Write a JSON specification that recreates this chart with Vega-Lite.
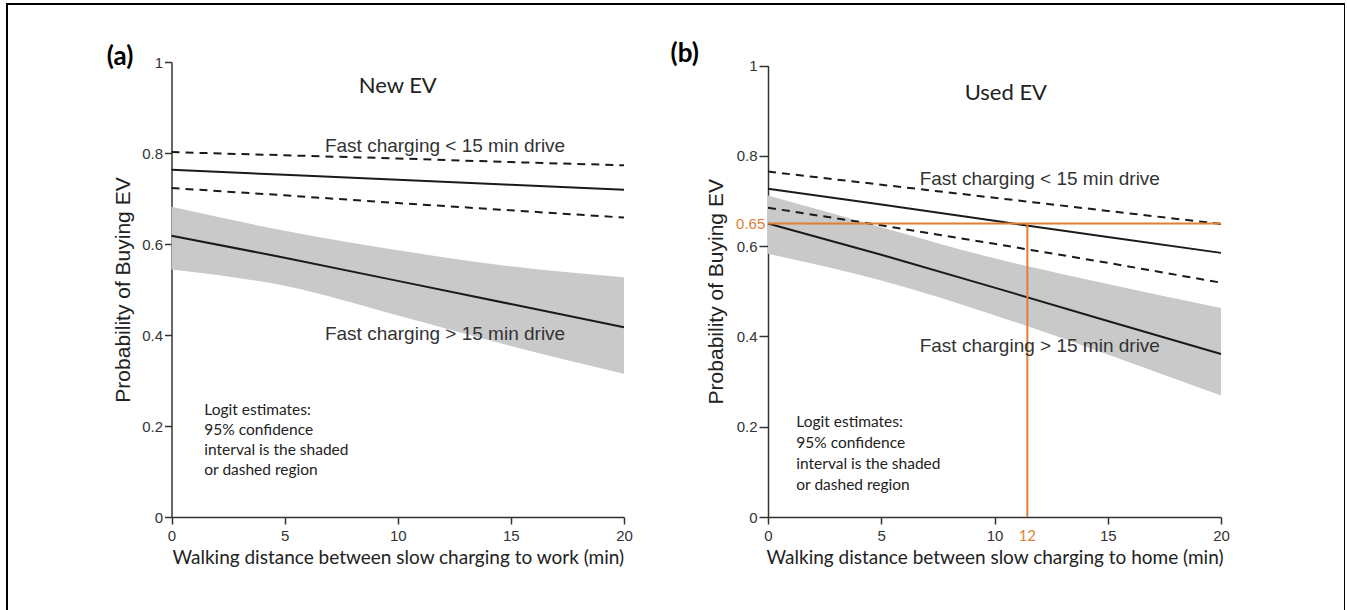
{
  "$schema": "https://vega.github.io/schema/vega-lite/v6.json",
  "width": 1338,
  "height": 610,
  "padding": {"left": 7, "top": 4, "right": 0, "bottom": 0},
  "background": "white",
  "config": {
    "view": {"stroke": "#000000", "strokeWidth": 2},
    "axis": {
      "grid": false,
      "domainColor": "#333333",
      "tickColor": "#333333",
      "domainWidth": 1.5,
      "tickWidth": 1.5,
      "labelFont": "Liberation Sans",
      "labelFontSize": 15,
      "labelColor": "#333333",
      "labelFlush": false,
      "labelOverlap": false,
      "titleFontWeight": "normal",
      "titleColor": "#222222"
    }
  },
  "datasets": {
    "bandA": [
      {"x": 0, "lo": 0.544, "hi": 0.682},
      {"x": 5, "lo": 0.508, "hi": 0.629},
      {"x": 10, "lo": 0.443, "hi": 0.586},
      {"x": 15, "lo": 0.376, "hi": 0.551},
      {"x": 20, "lo": 0.315, "hi": 0.527}
    ],
    "linesA": [
      {"series": "Fast charging < 15 min drive", "bound": "estimate", "x": 0, "p": 0.763},
      {"series": "Fast charging < 15 min drive", "bound": "estimate", "x": 5, "p": 0.752},
      {"series": "Fast charging < 15 min drive", "bound": "estimate", "x": 10, "p": 0.741},
      {"series": "Fast charging < 15 min drive", "bound": "estimate", "x": 15, "p": 0.730},
      {"series": "Fast charging < 15 min drive", "bound": "estimate", "x": 20, "p": 0.719},
      {"series": "Fast charging < 15 min drive", "bound": "upper", "x": 0, "p": 0.802},
      {"series": "Fast charging < 15 min drive", "bound": "upper", "x": 5, "p": 0.795},
      {"series": "Fast charging < 15 min drive", "bound": "upper", "x": 10, "p": 0.788},
      {"series": "Fast charging < 15 min drive", "bound": "upper", "x": 15, "p": 0.780},
      {"series": "Fast charging < 15 min drive", "bound": "upper", "x": 20, "p": 0.773},
      {"series": "Fast charging < 15 min drive", "bound": "lower", "x": 0, "p": 0.723},
      {"series": "Fast charging < 15 min drive", "bound": "lower", "x": 5, "p": 0.707},
      {"series": "Fast charging < 15 min drive", "bound": "lower", "x": 10, "p": 0.690},
      {"series": "Fast charging < 15 min drive", "bound": "lower", "x": 15, "p": 0.674},
      {"series": "Fast charging < 15 min drive", "bound": "lower", "x": 20, "p": 0.658},
      {"series": "Fast charging > 15 min drive", "bound": "estimate", "x": 0, "p": 0.618},
      {"series": "Fast charging > 15 min drive", "bound": "estimate", "x": 5, "p": 0.570},
      {"series": "Fast charging > 15 min drive", "bound": "estimate", "x": 10, "p": 0.519},
      {"series": "Fast charging > 15 min drive", "bound": "estimate", "x": 15, "p": 0.468},
      {"series": "Fast charging > 15 min drive", "bound": "estimate", "x": 20, "p": 0.417}
    ],
    "textA": [
      {"kind": "series", "x": 12.09, "p": 0.815, "text": "Fast charging < 15 min drive"},
      {"kind": "series", "x": 12.09, "p": 0.402, "text": "Fast charging > 15 min drive"},
      {"kind": "heading", "x": 10, "p": 0.947, "text": "New EV"},
      {"kind": "note", "x": 1.45, "p": 0.225, "text": "Logit estimates:\n95% confidence\ninterval is the shaded\nor dashed region"},
      {"kind": "panel", "x": -2.86, "p": 1.011, "text": "(a)"}
    ],
    "bandB": [
      {"x": 0, "lo": 0.583, "hi": 0.712},
      {"x": 5, "lo": 0.524, "hi": 0.642},
      {"x": 10, "lo": 0.447, "hi": 0.573},
      {"x": 15, "lo": 0.360, "hi": 0.516},
      {"x": 20, "lo": 0.269, "hi": 0.463}
    ],
    "linesB": [
      {"series": "Fast charging < 15 min drive", "bound": "estimate", "x": 0, "p": 0.727},
      {"series": "Fast charging < 15 min drive", "bound": "estimate", "x": 5, "p": 0.692},
      {"series": "Fast charging < 15 min drive", "bound": "estimate", "x": 10, "p": 0.656},
      {"series": "Fast charging < 15 min drive", "bound": "estimate", "x": 15, "p": 0.620},
      {"series": "Fast charging < 15 min drive", "bound": "estimate", "x": 20, "p": 0.585},
      {"series": "Fast charging < 15 min drive", "bound": "upper", "x": 0, "p": 0.765},
      {"series": "Fast charging < 15 min drive", "bound": "upper", "x": 5, "p": 0.736},
      {"series": "Fast charging < 15 min drive", "bound": "upper", "x": 10, "p": 0.707},
      {"series": "Fast charging < 15 min drive", "bound": "upper", "x": 15, "p": 0.678},
      {"series": "Fast charging < 15 min drive", "bound": "upper", "x": 20, "p": 0.649},
      {"series": "Fast charging < 15 min drive", "bound": "lower", "x": 0, "p": 0.685},
      {"series": "Fast charging < 15 min drive", "bound": "lower", "x": 5, "p": 0.646},
      {"series": "Fast charging < 15 min drive", "bound": "lower", "x": 10, "p": 0.605},
      {"series": "Fast charging < 15 min drive", "bound": "lower", "x": 15, "p": 0.563},
      {"series": "Fast charging < 15 min drive", "bound": "lower", "x": 20, "p": 0.519},
      {"series": "Fast charging > 15 min drive", "bound": "estimate", "x": 0, "p": 0.650},
      {"series": "Fast charging > 15 min drive", "bound": "estimate", "x": 5, "p": 0.581},
      {"series": "Fast charging > 15 min drive", "bound": "estimate", "x": 10, "p": 0.508},
      {"series": "Fast charging > 15 min drive", "bound": "estimate", "x": 15, "p": 0.434},
      {"series": "Fast charging > 15 min drive", "bound": "estimate", "x": 20, "p": 0.361}
    ],
    "refB": [
      {"x": 0, "x2": 20, "p": 0.65, "p2": 0.65},
      {"x": 11.45, "x2": 11.45, "p": 0, "p2": 0.65}
    ],
    "refTextB": [
      {"kind": "ylabel", "x": -0.12, "p": 0.65, "text": "0.65"},
      {"kind": "xlabel", "x": 11.45, "p": -0.042, "text": "12"}
    ],
    "textB": [
      {"kind": "series", "x": 12.0, "p": 0.748, "text": "Fast charging < 15 min drive"},
      {"kind": "series", "x": 12.0, "p": 0.378, "text": "Fast charging > 15 min drive"},
      {"kind": "heading", "x": 10.5, "p": 0.939, "text": "Used EV"},
      {"kind": "note", "x": 1.25, "p": 0.199, "text": "Logit estimates:\n95% confidence\ninterval is the shaded\nor dashed region"},
      {"kind": "panel", "x": -4.3, "p": 1.025, "text": "(b)"}
    ]
  },
  "layer": [
    {
      "layer": [
        {
          "data": {"name": "bandA"},
          "mark": {"type": "area", "color": "#c9c9c9", "interpolate": "monotone"},
          "encoding": {
            "x": {"field": "x", "type": "quantitative",
              "scale": {"domain": [0, 20], "range": [164.5, 617], "nice": false, "zero": false},
              "axis": {"orient": "bottom", "offset": -97, "values": [0, 5, 10, 15, 20], "format": "d", "tickSize": 7, "labelPadding": 4,
                "title": "Walking distance between slow charging to work (min)", "titleFont": "Lato", "titleFontSize": 19, "titlePadding": 5}},
            "y": {"field": "lo", "type": "quantitative",
              "scale": {"domain": [0, 1], "range": [513, 58], "nice": false, "zero": false},
              "axis": {"orient": "left", "offset": -164.5, "values": [0, 0.2, 0.4, 0.6, 0.8, 1], "format": "~g", "tickSize": 7, "labelPadding": 2,
                "title": "Probability of Buying EV", "titleFont": "Liberation Sans", "titleFontSize": 21, "titlePadding": 8}},
            "y2": {"field": "hi"}
          }
        },
        {
          "data": {"name": "linesA"},
          "transform": [{"filter": "datum.bound == 'estimate'"}],
          "mark": {"type": "line", "color": "#1a1a1a", "strokeWidth": 2},
          "encoding": {
            "x": {"field": "x", "type": "quantitative"},
            "y": {"field": "p", "type": "quantitative"},
            "detail": {"field": "series"}
          }
        },
        {
          "data": {"name": "linesA"},
          "transform": [{"filter": "datum.bound != 'estimate'"}],
          "mark": {"type": "line", "color": "#1a1a1a", "strokeWidth": 2, "strokeDash": [8, 6]},
          "encoding": {
            "x": {"field": "x", "type": "quantitative"},
            "y": {"field": "p", "type": "quantitative"},
            "detail": {"field": "bound"}
          }
        },
        {
          "data": {"name": "textA"},
          "transform": [{"filter": "datum.kind == 'series'"}],
          "mark": {"type": "text", "font": "Liberation Sans", "fontSize": 19, "color": "#333333", "align": "center", "baseline": "middle"},
          "encoding": {
            "x": {"field": "x", "type": "quantitative"},
            "y": {"field": "p", "type": "quantitative"},
            "text": {"field": "text"}
          }
        },
        {
          "data": {"name": "textA"},
          "transform": [{"filter": "datum.kind == 'heading'"}],
          "mark": {"type": "text", "font": "Lato", "fontSize": 22, "color": "#222222", "align": "center", "baseline": "middle"},
          "encoding": {
            "x": {"field": "x", "type": "quantitative"},
            "y": {"field": "p", "type": "quantitative"},
            "text": {"field": "text"}
          }
        },
        {
          "data": {"name": "textA"},
          "transform": [{"filter": "datum.kind == 'note'"}],
          "mark": {"type": "text", "font": "Lato", "fontSize": 15.5, "color": "#222222", "align": "left", "baseline": "alphabetic", "lineBreak": "\n", "lineHeight": 20.2},
          "encoding": {
            "x": {"field": "x", "type": "quantitative"},
            "y": {"field": "p", "type": "quantitative"},
            "text": {"field": "text"}
          }
        },
        {
          "data": {"name": "textA"},
          "transform": [{"filter": "datum.kind == 'panel'"}],
          "mark": {"type": "text", "font": "Lato", "fontSize": 26, "fontWeight": "bold", "color": "#000000", "align": "left", "baseline": "middle"},
          "encoding": {
            "x": {"field": "x", "type": "quantitative"},
            "y": {"field": "p", "type": "quantitative"},
            "text": {"field": "text"}
          }
        }
      ]
    },
    {
      "layer": [
        {
          "data": {"name": "bandB"},
          "mark": {"type": "area", "color": "#c9c9c9", "interpolate": "monotone"},
          "encoding": {
            "x": {"field": "x", "type": "quantitative",
              "scale": {"domain": [0, 20], "range": [761, 1214], "nice": false, "zero": false},
              "axis": {"orient": "bottom", "offset": -97, "values": [0, 5, 10, 15, 20], "format": "d", "tickSize": 7, "labelPadding": 4,
                "title": "Walking distance between slow charging to home (min)", "titleFont": "Lato", "titleFontSize": 19, "titlePadding": 5}},
            "y": {"field": "lo", "type": "quantitative",
              "scale": {"domain": [0, 1], "range": [513, 61.5], "nice": false, "zero": false},
              "axis": {"orient": "left", "offset": -761, "values": [0, 0.2, 0.4, 0.6, 0.8, 1], "format": "~g", "tickSize": 9, "labelPadding": 2,
                "title": "Probability of Buying EV", "titleFont": "Liberation Sans", "titleFontSize": 21, "titlePadding": 10}},
            "y2": {"field": "hi"}
          }
        },
        {
          "data": {"name": "linesB"},
          "transform": [{"filter": "datum.bound == 'estimate'"}],
          "mark": {"type": "line", "color": "#1a1a1a", "strokeWidth": 2},
          "encoding": {
            "x": {"field": "x", "type": "quantitative"},
            "y": {"field": "p", "type": "quantitative"},
            "detail": {"field": "series"}
          }
        },
        {
          "data": {"name": "linesB"},
          "transform": [{"filter": "datum.bound != 'estimate'"}],
          "mark": {"type": "line", "color": "#1a1a1a", "strokeWidth": 2, "strokeDash": [8, 6]},
          "encoding": {
            "x": {"field": "x", "type": "quantitative"},
            "y": {"field": "p", "type": "quantitative"},
            "detail": {"field": "bound"}
          }
        },
        {
          "data": {"name": "refB"},
          "mark": {"type": "rule", "color": "#e07f35", "strokeWidth": 2},
          "encoding": {
            "x": {"field": "x", "type": "quantitative"},
            "x2": {"field": "x2"},
            "y": {"field": "p", "type": "quantitative"},
            "y2": {"field": "p2"}
          }
        },
        {
          "data": {"name": "refTextB"},
          "transform": [{"filter": "datum.kind == 'ylabel'"}],
          "mark": {"type": "text", "font": "Liberation Sans", "fontSize": 15, "color": "#e07f35", "align": "right", "baseline": "middle"},
          "encoding": {
            "x": {"field": "x", "type": "quantitative"},
            "y": {"field": "p", "type": "quantitative"},
            "text": {"field": "text"}
          }
        },
        {
          "data": {"name": "refTextB"},
          "transform": [{"filter": "datum.kind == 'xlabel'"}],
          "mark": {"type": "text", "font": "Lato", "fontSize": 15, "color": "#e07f35", "align": "center", "baseline": "middle"},
          "encoding": {
            "x": {"field": "x", "type": "quantitative"},
            "y": {"field": "p", "type": "quantitative"},
            "text": {"field": "text"}
          }
        },
        {
          "data": {"name": "textB"},
          "transform": [{"filter": "datum.kind == 'series'"}],
          "mark": {"type": "text", "font": "Liberation Sans", "fontSize": 19, "color": "#333333", "align": "center", "baseline": "middle"},
          "encoding": {
            "x": {"field": "x", "type": "quantitative"},
            "y": {"field": "p", "type": "quantitative"},
            "text": {"field": "text"}
          }
        },
        {
          "data": {"name": "textB"},
          "transform": [{"filter": "datum.kind == 'heading'"}],
          "mark": {"type": "text", "font": "Lato", "fontSize": 22, "color": "#222222", "align": "center", "baseline": "middle"},
          "encoding": {
            "x": {"field": "x", "type": "quantitative"},
            "y": {"field": "p", "type": "quantitative"},
            "text": {"field": "text"}
          }
        },
        {
          "data": {"name": "textB"},
          "transform": [{"filter": "datum.kind == 'note'"}],
          "mark": {"type": "text", "font": "Lato", "fontSize": 15.5, "color": "#222222", "align": "left", "baseline": "alphabetic", "lineBreak": "\n", "lineHeight": 20.8},
          "encoding": {
            "x": {"field": "x", "type": "quantitative"},
            "y": {"field": "p", "type": "quantitative"},
            "text": {"field": "text"}
          }
        },
        {
          "data": {"name": "textB"},
          "transform": [{"filter": "datum.kind == 'panel'"}],
          "mark": {"type": "text", "font": "Lato", "fontSize": 26, "fontWeight": "bold", "color": "#000000", "align": "left", "baseline": "middle"},
          "encoding": {
            "x": {"field": "x", "type": "quantitative"},
            "y": {"field": "p", "type": "quantitative"},
            "text": {"field": "text"}
          }
        }
      ]
    }
  ],
  "resolve": {"scale": {"x": "independent", "y": "independent"}, "axis": {"x": "independent", "y": "independent"}}
}
